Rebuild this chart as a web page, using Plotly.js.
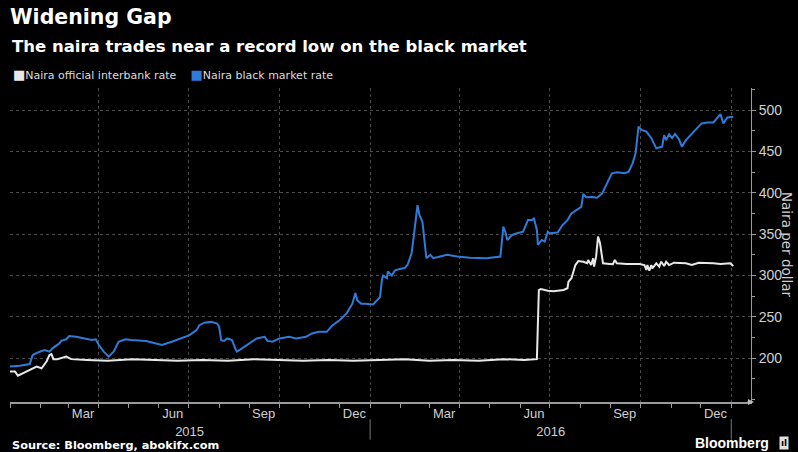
<!DOCTYPE html>
<html><head><meta charset="utf-8">
<script src="https://cdn.plot.ly/plotly-3.0.1.min.js"></script>
<style>html,body{margin:0;padding:0;background:#000;}#chart{width:798px;height:452px;}</style>
</head><body><div id="chart"></div>
<script>
const officialDates = ['2015-01-01','2015-01-06','2015-01-09','2015-01-14','2015-01-21','2015-01-28','2015-02-02','2015-02-07','2015-02-10','2015-02-12','2015-02-14','2015-02-18','2015-02-27','2015-03-04','2015-03-20','2015-04-10','2015-05-05','2015-06-01','2015-06-20','2015-07-15','2015-08-10','2015-09-05','2015-10-01','2015-10-25','2015-11-20','2015-12-15','2016-01-10','2016-02-05','2016-03-01','2016-03-25','2016-04-20','2016-05-15','2016-06-05','2016-06-18','2016-06-20','2016-06-22','2016-06-29','2016-07-05','2016-07-15','2016-07-19','2016-07-20','2016-07-23','2016-07-25','2016-07-27','2016-07-30','2016-08-04','2016-08-08','2016-08-09','2016-08-12','2016-08-14','2016-08-15','2016-08-17','2016-08-19','2016-08-21','2016-08-23','2016-08-24','2016-08-31','2016-09-03','2016-09-05','2016-09-07','2016-09-17','2016-09-30','2016-10-05','2016-10-07','2016-10-08','2016-10-10','2016-10-12','2016-10-13','2016-10-17','2016-10-20','2016-10-22','2016-10-25','2016-10-27','2016-10-30','2016-11-04','2016-11-16','2016-11-22','2016-11-29','2016-12-14','2016-12-21','2016-12-31','2017-01-03'];
const officialRate = [184,184,179,182,186,190,188,196,204,205,199,199,202,199,198,197,199,198,197,198,197,199,198,197,198,197,198,199,197,198,197,199,198,199,282.5,283.7,281.7,281,282.5,284.6,292.6,296.7,304.6,312.7,317.5,316.7,314.8,318.8,312.7,320.8,310.7,322.8,347,339,322.8,314.8,314,313.6,318.8,314.8,314,314,312.7,306.7,312.7,305.8,312.7,308.7,314.8,310.7,316.7,311.5,316.7,312.7,315.5,314.8,312.7,315.5,314.8,314,314.8,311.5];

const blackDates = ['2015-01-01','2015-01-11','2015-01-21','2015-01-24','2015-01-31','2015-02-05','2015-02-10','2015-02-13','2015-02-20','2015-02-22','2015-02-27','2015-03-02','2015-03-09','2015-03-19','2015-03-25','2015-03-29','2015-04-01','2015-04-06','2015-04-11','2015-04-16','2015-04-21','2015-04-28','2015-05-04','2015-05-19','2015-05-25','2015-06-04','2015-06-14','2015-06-24','2015-07-02','2015-07-09','2015-07-12','2015-07-17','2015-07-24','2015-07-30','2015-08-01','2015-08-03','2015-08-06','2015-08-09','2015-08-14','2015-08-18','2015-08-19','2015-08-23','2015-09-01','2015-09-08','2015-09-16','2015-09-19','2015-09-24','2015-10-01','2015-10-11','2015-10-18','2015-10-28','2015-11-03','2015-11-10','2015-11-18','2015-11-24','2015-12-01','2015-12-08','2015-12-11','2015-12-14','2015-12-17','2015-12-19','2015-12-23','2015-12-27','2016-01-04','2016-01-09','2016-01-11','2016-01-13','2016-01-14','2016-01-18','2016-01-19','2016-01-23','2016-01-26','2016-01-31','2016-02-05','2016-02-08','2016-02-12','2016-02-15','2016-02-18','2016-02-20','2016-02-23','2016-02-25','2016-02-27','2016-03-02','2016-03-05','2016-03-12','2016-03-19','2016-03-29','2016-04-11','2016-04-28','2016-05-09','2016-05-12','2016-05-15','2016-05-17','2016-05-19','2016-05-24','2016-05-29','2016-06-04','2016-06-09','2016-06-13','2016-06-15','2016-06-18','2016-06-19','2016-06-23','2016-06-26','2016-06-29','2016-07-01','2016-07-09','2016-07-14','2016-07-19','2016-07-23','2016-07-28','2016-08-02','2016-08-04','2016-08-07','2016-08-13','2016-08-18','2016-08-23','2016-08-28','2016-09-02','2016-09-07','2016-09-15','2016-09-19','2016-09-23','2016-09-26','2016-09-29','2016-10-02','2016-10-07','2016-10-12','2016-10-17','2016-10-23','2016-10-25','2016-10-27','2016-10-30','2016-11-02','2016-11-05','2016-11-09','2016-11-12','2016-11-16','2016-11-21','2016-11-26','2016-12-02','2016-12-08','2016-12-14','2016-12-21','2016-12-24','2016-12-28','2017-01-03'];
const blackRate = [190,191,193,204,208,210,208,212,218,221,223,227,226,224,222,223,216,208,202,208,220,223,222,221,219,216,220,224,228,234,240,243,244,242,238,222,221,224,222,210,208,211,218,224,226,221,220,224,226,224,226,230,232,232,240,246,254,260,266,279,270,266,266,265,272,274,295,300,297,305,300,306,308,309,313,327,355,385,373,365,343,321,325,321,323,325,323,321.5,321,323,323,359,353,343,349,351,353,367,367,369,355,337,343,341,353,351,352,361,367,375,379,383,398.5,394.5,395,394,399,411,423.5,424.7,423.5,425.5,435.5,447.7,480,476,474,466,453.7,455.7,469.7,463.6,470.6,466,471,464.6,455.7,463.6,469.7,475.8,483.8,485,485,495,483.8,491,492];

const monthLabelDates = ['2015-03-16','2015-06-15','2015-09-15','2015-12-16','2016-03-16','2016-06-15','2016-09-15','2016-12-16'];
const monthLabels = ['Mar','Jun','Sep','Dec','Mar','Jun','Sep','Dec'];
const yearLabelDates = ['2015-07-02','2016-07-02'];
const yearLabels = ['2015','2016'];
const yearBoundaries = ['2016-01-01','2017-01-01'];
const yTicks = [200,250,300,350,400,450,500];
const seriesNames = ['Naira official interbank rate','Naira black market rate'];
const seriesColors = ['#e8e8e8','#2f7bd8'];

const xRange = ['2015-01-01','2017-01-21'];
const tickFont = {family:'Liberation Sans, Arial, sans-serif', size:13, color:'#d0d0d0'};

const traces = [
  {x: officialDates, y: officialRate, type:'scatter', mode:'lines', name: seriesNames[0],
   line:{color: seriesColors[0], width:2}, showlegend:false, hoverinfo:'skip'},
  {x: blackDates, y: blackRate, type:'scatter', mode:'lines', name: seriesNames[1],
   line:{color: seriesColors[1], width:2}, showlegend:false, hoverinfo:'skip'},
  // empty carriers so the label axes get drawn
  {x: monthLabelDates, y: monthLabelDates.map(() => null), xaxis:'x2', yaxis:'y', type:'scatter', mode:'lines',
   showlegend:false, hoverinfo:'skip', line:{width:0}},
  {x: yearLabelDates, y: yearLabelDates.map(() => null), xaxis:'x3', yaxis:'y', type:'scatter', mode:'lines',
   showlegend:false, hoverinfo:'skip', line:{width:0}}
];

const shapes = yearBoundaries.map(b => ({type:'line', xref:'x', yref:'paper', x0:b, x1:b, y0:-0.055, y1:-0.12, line:{color:'#777', width:1}}));

const legendText = '<span style="color:' + seriesColors[0] + ';font-size:13px">■</span>' + seriesNames[0] +
  '    <span style="color:' + seriesColors[1] + ';font-size:13px">■</span>' + seriesNames[1];

const layout = {
  width:798, height:452,
  paper_bgcolor:'#000', plot_bgcolor:'#000',
  margin:{l:10, r:47, t:88, b:50},
  showlegend:false,
  title:{text:'Widening Gap', x:10/798, xref:'container', xanchor:'left', y:1-17/452, yref:'container', yanchor:'middle',
         font:{family:'DejaVu Sans, Verdana, sans-serif', size:20.5, color:'#fff', weight:700}},
  xaxis:{type:'date', range:xRange, showline:true, linecolor:'#9a9a9a', linewidth:2,
         ticks:'outside', ticklen:4, tickcolor:'#9a9a9a', tick0:'2015-01-01', dtick:'M3',
         showticklabels:false, showgrid:true, gridcolor:'#4a4a4a', griddash:'dot', gridwidth:1, zeroline:false,
         minor:{tick0:'2015-01-01', dtick:'M1', ticks:'outside', ticklen:4, tickcolor:'#9a9a9a', showgrid:false}},
  xaxis2:{type:'date', range:xRange, overlaying:'x', anchor:'y', side:'bottom', showline:false, showgrid:false,
          ticks:'', tickmode:'array', tickvals:monthLabelDates, ticktext:monthLabels, tickfont:tickFont, zeroline:false, ticklabelstandoff:2},
  xaxis3:{type:'date', range:xRange, overlaying:'x', anchor:'y', side:'bottom', showline:false, showgrid:false,
          ticks:'', tickmode:'array', tickvals:yearLabelDates, ticktext:yearLabels, tickfont:tickFont, zeroline:false, ticklabelstandoff:20},
  yaxis:{side:'right', range:[147.2, 526.6], showline:true, linecolor:'#9a9a9a', linewidth:1,
         ticks:'outside', ticklen:4, tickcolor:'#9a9a9a', tickmode:'array', tickvals:yTicks,
         tickfont:{family:'Liberation Sans, Arial, sans-serif', size:14, color:'#d0d0d0'},
         showgrid:true, gridcolor:'#4a4a4a', griddash:'dot', gridwidth:1, zeroline:false,
         minor:{tick0:150, dtick:25, ticks:'outside', ticklen:3, tickcolor:'#9a9a9a', showgrid:false}},
  shapes: shapes,
  annotations:[
    {text:'The naira trades near a record low on the black market', xref:'paper', yref:'paper', x:0, y:(402-47)/314,
     xanchor:'left', yanchor:'middle', showarrow:false,
     font:{family:'DejaVu Sans, Verdana, sans-serif', size:16.5, color:'#fff', weight:700}},
    {text:legendText, xref:'paper', yref:'paper', x:0.002, y:(402-75)/314, xanchor:'left', yanchor:'middle', showarrow:false,
     font:{family:'DejaVu Sans, Verdana, sans-serif', size:11, color:'#dcdcdc'}},
    {text:'Naira per dollar', xref:'paper', yref:'paper', x:(787-10)/741, y:0.5, textangle:90, xanchor:'center', yanchor:'middle', showarrow:false,
     font:{family:'DejaVu Sans, Verdana, sans-serif', size:13.5, color:'#d0d0d0'}},
    {text:'Source: Bloomberg, abokifx.com', xref:'paper', yref:'paper', x:0, y:(402-445)/314, xanchor:'left', yanchor:'middle', showarrow:false,
     font:{family:'DejaVu Sans, Verdana, sans-serif', size:11.3, color:'#fff', weight:700}},
    {text:'Bloomberg', xref:'paper', yref:'paper', x:(771-10)/741, y:(402-443)/314, xanchor:'right', yanchor:'middle', showarrow:false,
     font:{family:'Liberation Sans, Arial, sans-serif', size:14, color:'#fff', weight:700}},
    {text:'ıl', xref:'paper', yref:'paper', x:(784-10)/741, y:(402-443)/314, xanchor:'center', yanchor:'middle', showarrow:false,
     bgcolor:'#e0e0e0', borderpad:1, font:{family:'DejaVu Sans, sans-serif', size:9, color:'#000', weight:700}},
    {text:'', xref:'paper', yref:'paper', x:1.004, y:0, ax:-8, ay:0, showarrow:true, arrowhead:2, arrowsize:0.8, arrowwidth:1.5, arrowcolor:'#bbb'}
  ]
};

Plotly.newPlot('chart', traces, layout, {staticPlot:true, displayModeBar:false});
</script>
</body></html>
